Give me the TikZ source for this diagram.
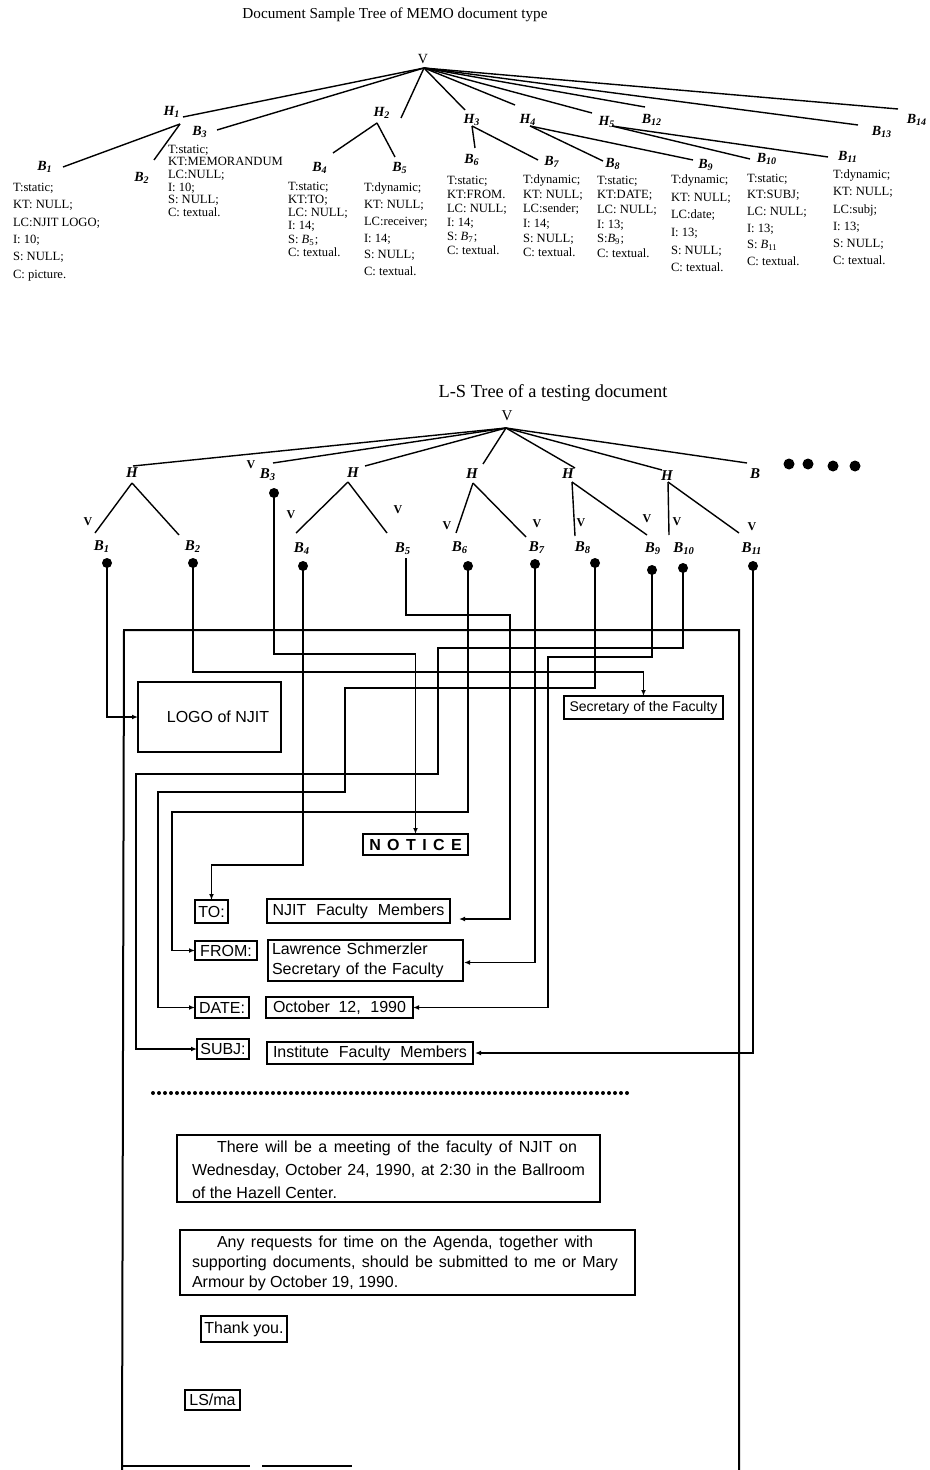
\documentclass[tikz,border=0pt]{standalone}
\usepackage{fontspec}
\setmainfont{Liberation Serif}
\setsansfont{Liberation Sans}
\usetikzlibrary{calc,arrows.meta}
\newcommand{\sbs}[2]{#1\textsubscript{#2}}
\begin{document}
\begin{tikzpicture}[x=0.5pt,y=-0.5pt,
  every node/.style={inner sep=0pt,outer sep=0pt},
  ttl/.style={font=\fontsize{7.6}{9}\selectfont},
  ttlb/.style={font=\fontsize{9.2}{11}\selectfont},
  tlab/.style={font=\bfseries\itshape\fontsize{7}{8}\selectfont},
  llab/.style={font=\bfseries\itshape\fontsize{7.5}{8}\selectfont},
  vmark/.style={font=\bfseries\fontsize{6}{7}\selectfont},
  blk/.style={anchor=north west,align=left,font=\fontsize{6.3}{#1}\selectfont},
  edge/.style={line width=0.7pt},
  frame/.style={line width=1pt},
  mb/.style={draw,line width=0.55pt,font=\sffamily\fontsize{8}{10}\selectfont,inner sep=0pt},
  ptxt/.style={anchor=west,font=\sffamily\fontsize{8}{10}\selectfont},
  arr/.style={line width=0.6pt,-{Latex[length=3pt,width=2.4pt]}},
  dotm/.style={fill=black}
]
\useasboundingbox (0,0) rectangle (930,1470);

% ================= top tree =================
\node[ttl] (title1) at (395,15) {Document Sample Tree of MEMO document type};
\node[font=\fontsize{7}{8}\selectfont] (tv) at (423,59) {V};
\coordinate (tA) at (424,68);

\node[tlab] (tH1) at (172,112) {\sbs{H}{1}};
\node[tlab] (tB3) at (200,132) {\sbs{B}{3}};
\node[tlab] (tB1) at (45,167) {\sbs{B}{1}};
\node[tlab] (tB2) at (142,178) {\sbs{B}{2}};
\node[tlab] (tH2) at (382,113) {\sbs{H}{2}};
\node[tlab] (tB4) at (320,168) {\sbs{B}{4}};
\node[tlab] (tB5) at (400,168) {\sbs{B}{5}};
\node[tlab] (tH3) at (472,120) {\sbs{H}{3}};
\node[tlab] (tB6) at (472,160) {\sbs{B}{6}};
\node[tlab] (tB7) at (552,162) {\sbs{B}{7}};
\node[tlab] (tH4) at (528,120) {\sbs{H}{4}};
\node[tlab] (tB8) at (613,164) {\sbs{B}{8}};
\node[tlab] (tB9) at (706,165) {\sbs{B}{9}};
\node[tlab] (tH5) at (607,122) {\sbs{H}{5}};
\node[tlab] (tB10) at (767,159) {\sbs{B}{10}};
\node[tlab] (tB11) at (848,157) {\sbs{B}{11}};
\node[tlab] (tB12) at (652,120) {\sbs{B}{12}};
\node[tlab] (tB13) at (882,132) {\sbs{B}{13}};
\node[tlab] (tB14) at (917,120) {\sbs{B}{14}};

\coordinate (eH1) at (183,117);
\coordinate (eB3) at (217,130);
\coordinate (eH2) at (401,118);
\coordinate (eH3) at (465,110);
\coordinate (eH4) at (515,105);
\coordinate (eH5) at (592,113);
\coordinate (eB12) at (645,107);
\coordinate (eB13) at (858,125);
\coordinate (eB14) at (898,109);
\foreach \e in {eH1,eB3,eH2,eH3,eH4,eH5,eB12,eB13,eB14}{\draw[edge] (tA) -- (\e);}

\coordinate (aH1) at (180,124); \coordinate (eB1) at (63,167); \coordinate (eB2) at (154,160);
\coordinate (aH2) at (377,123); \coordinate (eB4) at (333,153); \coordinate (eB5) at (395,157);
\coordinate (aH3) at (472,126); \coordinate (eB6) at (475,148); \coordinate (eB7) at (538,160);
\coordinate (aH4) at (530,126); \coordinate (eB8) at (603,161); \coordinate (eB9) at (693,160);
\coordinate (aH5) at (612,126); \coordinate (eB10) at (750,159); \coordinate (eB11) at (828,157);
\draw[edge] (aH1) -- (eB1); \draw[edge] (aH1) -- (eB2);
\draw[edge] (aH2) -- (eB4); \draw[edge] (aH2) -- (eB5);
\draw[edge] (aH3) -- (eB6); \draw[edge] (aH3) -- (eB7);
\draw[edge] (aH4) -- (eB8); \draw[edge] (aH4) -- (eB9);
\draw[edge] (aH5) -- (eB10); \draw[edge] (aH5) -- (eB11);

\node[blk=8.7] (k1) at (13,183) {T:static;\\KT: NULL;\\LC:NJIT LOGO;\\I: 10;\\S: NULL;\\C: picture.};
\node[blk=6.3] (k3) at (168,145) {T:static;\\KT:MEMORANDUM\\LC:NULL;\\I: 10;\\S: NULL;\\C: textual.};
\node[blk=6.6] (k4) at (288,182) {T:static;\\KT:TO;\\LC: NULL;\\I: 14;\\S: \sbs{\textit{B}}{5};\\C: textual.};
\node[blk=8.4] (k5) at (364,183) {T:dynamic;\\KT: NULL;\\LC:receiver;\\I: 14;\\S: NULL;\\C: textual.};
\node[blk=7.0] (k6) at (447,176) {T:static;\\KT:FROM.\\LC: NULL;\\I: 14;\\S: \sbs{\textit{B}}{7};\\C: textual.};
\node[blk=7.3] (k7) at (523,175) {T:dynamic;\\KT: NULL;\\LC:sender;\\I: 14;\\S: NULL;\\C: textual.};
\node[blk=7.3] (k8) at (597,176) {T:static;\\KT:DATE;\\LC: NULL;\\I: 13;\\S:\sbs{\textit{B}}{9};\\C: textual.};
\node[blk=8.8] (k9) at (671,175) {T:dynamic;\\KT: NULL;\\LC:date;\\I: 13;\\S: NULL;\\C: textual.};
\node[blk=8.3] (k10) at (747,174) {T:static;\\KT:SUBJ;\\LC: NULL;\\I: 13;\\S: \sbs{\textit{B}}{11}\\C: textual.};
\node[blk=8.6] (k11) at (833,170) {T:dynamic;\\KT: NULL;\\LC:subj;\\I: 13;\\S: NULL;\\C: textual.};

% ================= L-S tree =================
\node[ttlb] (title2) at (553,393) {L-S Tree of a testing document};
\node[font=\fontsize{7.5}{8}\selectfont] (lv) at (507,416) {V};
\coordinate (lA) at (506,428);

\node[llab] (lH1) at (132,473) {H};
\node[llab] (lB3) at (268,475) {\sbs{B}{3}};
\node[llab] (lH2) at (353,473) {H};
\node[llab] (lH3) at (472,474) {H};
\node[llab] (lH4) at (568,474) {H};
\node[llab] (lH5) at (667,476) {H};
\node[llab] (lB) at (755,474) {B};

\coordinate (fH1) at (133,466);
\coordinate (fB3) at (273,463);
\coordinate (fH2) at (365,466);
\coordinate (fH3) at (483,464);
\coordinate (fH4) at (575,468);
\coordinate (fH5) at (662,470);
\coordinate (fB) at (747,463);
\foreach \e in {fH1,fB3,fH2,fH3,fH4,fH5,fB}{\draw[edge] (lA) -- (\e);}

\coordinate (gH1) at (132,483); \coordinate (fB1) at (95,533); \coordinate (fB2) at (179,535);
\coordinate (gH2) at (348,482); \coordinate (fB4) at (296,533); \coordinate (fB5) at (387,533);
\coordinate (gH3) at (473,483); \coordinate (fB6) at (456,533); \coordinate (fB7) at (526,537);
\coordinate (gH4) at (572,482); \coordinate (fB8) at (575,536); \coordinate (fB9) at (647,535);
\coordinate (gH5) at (668,482); \coordinate (fB10) at (669,535); \coordinate (fB11) at (739,533);
\draw[edge] (gH1) -- (fB1); \draw[edge] (gH1) -- (fB2);
\draw[edge] (gH2) -- (fB4); \draw[edge] (gH2) -- (fB5);
\draw[edge] (gH3) -- (fB6); \draw[edge] (gH3) -- (fB7);
\draw[edge] (gH4) -- (fB8); \draw[edge] (gH4) -- (fB9);
\draw[edge] (gH5) -- (fB10); \draw[edge] (gH5) -- (fB11);

\node[llab] (lB1) at (102,547) {\sbs{B}{1}};
\node[llab] (lB2) at (193,547) {\sbs{B}{2}};
\node[llab] (lB4) at (302,549) {\sbs{B}{4}};
\node[llab] (lB5) at (403,549) {\sbs{B}{5}};
\node[llab] (lB6) at (460,548) {\sbs{B}{6}};
\node[llab] (lB7) at (537,548) {\sbs{B}{7}};
\node[llab] (lB8) at (583,548) {\sbs{B}{8}};
\node[llab] (lB9) at (653,549) {\sbs{B}{9}};
\node[llab] (lB10) at (684,549) {\sbs{B}{10}};
\node[llab] (lB11) at (752,549) {\sbs{B}{11}};

\foreach \p/\n in {{88,522}/v1,{251,465}/v3,{291,515}/v4,{398,510}/v5,{447,526}/v6,{537,524}/v7,{581,523}/v8,{647,519}/v9,{677,522}/v10,{752,527}/v11}{
  \node[vmark] (\n) at (\p) {V};}

\foreach \p/\n in {{107,563}/d1,{193,563}/d2,{274,493}/d3,{303,566}/d4,{468,566}/d6,{535,564}/d7,{595,563}/d8,{652,570}/d9,{683,568}/d10,{753,566}/d11}{
  \coordinate (\n) at (\p);
  \fill[dotm] (\n) circle (5);}
\coordinate (t5) at (406,558);

\foreach \p/\n in {{789,464}/e1,{808,464}/e2,{833,466}/e3,{855,466}/e4}{
  \coordinate (\n) at (\p);
  \fill[dotm] (\n) circle (5.5);}

% ================= memo =================
\draw[frame] (122,1470) -- (124,630) -- (739,630) -- (739,1470);
\draw[frame] (122,1466) -- (250,1466);
\draw[frame] (262,1466) -- (352,1466);

\node[mb,minimum width=71.5pt,minimum height=35pt] (logo) at (209.5,717) {\hspace*{8.5pt}LOGO of NJIT};
\node[mb,minimum width=79.5pt,minimum height=11.5pt,font=\sffamily\fontsize{7}{8}\selectfont] (sec) at (643.5,707.5) {Secretary of the Faculty};
\node[mb,line width=0.9pt,minimum width=52.5pt,minimum height=10.5pt,font=\sffamily\bfseries\fontsize{8}{10}\selectfont] (notice) at (415.5,844.5) {N\hspace{3.2pt}O\hspace{3.2pt}T\hspace{3.2pt}I\hspace{3.2pt}C\hspace{3.2pt}E};
\node[mb,minimum width=16.5pt,minimum height=11.5pt] (to) at (211.5,911.5) {TO:};
\node[mb,minimum width=91.5pt,minimum height=12pt] (njit) at (358.5,911) {\makebox[86pt][s]{NJIT Faculty Members}};
\node[mb,minimum width=31pt,minimum height=9.5pt] (from) at (226,950.5) {FROM:};
\node[mb,align=left,text width=93.5pt,inner xsep=2pt,minimum height=20.5pt] (lawr) at (365.5,960.5) {Lawrence Schmerzler\\\makebox[91pt][s]{Secretary of the Faculty}};
\node[mb,minimum width=27pt,minimum height=10.5pt] (date) at (222,1007.5) {DATE:};
\node[mb,minimum width=73.5pt,minimum height=10.5pt] (oct) at (339.5,1007.5) {\makebox[66.5pt][s]{October 12, 1990}};
\node[mb,minimum width=26pt,minimum height=10pt] (subj) at (223,1049) {SUBJ:};
\node[mb,minimum width=103pt,minimum height=11pt] (inst) at (370,1053) {\makebox[97pt][s]{Institute Faculty Members}};

% connectors
\draw[arr] (d1) |- (logo.west);
\draw[arr] (d2) -- ++(0,109) -| (sec.north);
\draw[arr] (d3) -- ++(0,161) -| (notice.north);
\draw[arr] (d4) -- ++(0,299) -| (to.north);
\draw[arr] (t5) -- ++(0,57) -- ++(104,0) -- ++(0,304) -- ($(njit.east)+(9,8)$);
\draw[arr] (d6) -- ++(0,246) -- ++(-296,0) |- (from.west);
\draw[arr] (d7) |- ($(lawr.east)+(1,2)$);
\draw[arr] (d8) -- ++(0,125) -- ++(-250,0) -- ++(0,104) -- ++(-187,0) |- (date.west);
\draw[arr] (d9) -- ++(0,87) -- ++(-104,0) |- (oct.east);
\draw[arr] (d10) -- ++(0,80) -- ++(-245,0) -- ++(0,126) -- ++(-302,0) |- (subj.west);
\draw[arr] (d11) |- ($(inst.east)+(2,0)$);

% body
\draw[line width=2pt,dash pattern=on 0pt off 3pt,line cap=round] (153,1093) -- (628,1093);

\node[draw,line width=0.55pt,minimum width=211.5pt,minimum height=33.5pt,anchor=north west] (p1) at (177,1135) {};
\node[ptxt] (p1a) at (217,1148) {\makebox[180pt][s]{There will be a meeting of the faculty of NJIT on}};
\node[ptxt] (p1b) at (192,1171) {\makebox[196.5pt][s]{Wednesday, October 24, 1990, at 2:30 in the Ballroom}};
\node[ptxt] (p1c) at (192,1193) {of the Hazell Center.};

\node[draw,line width=0.55pt,minimum width=227.5pt,minimum height=32.5pt,anchor=north west] (p2) at (180,1230) {};
\node[ptxt] (p2a) at (217,1243) {\makebox[188pt][s]{Any requests for time on the Agenda, together with}};
\node[ptxt] (p2b) at (192,1263) {\makebox[213pt][s]{supporting documents, should be submitted to me or Mary}};
\node[ptxt] (p2c) at (192,1283) {Armour by October 19, 1990.};

\node[mb,minimum width=43pt,minimum height=13pt] (thank) at (244,1329) {Thank you.};
\node[mb,minimum width=27.5pt,minimum height=10pt] (lsma) at (212.5,1400) {LS/ma};
\end{tikzpicture}
\end{document}
